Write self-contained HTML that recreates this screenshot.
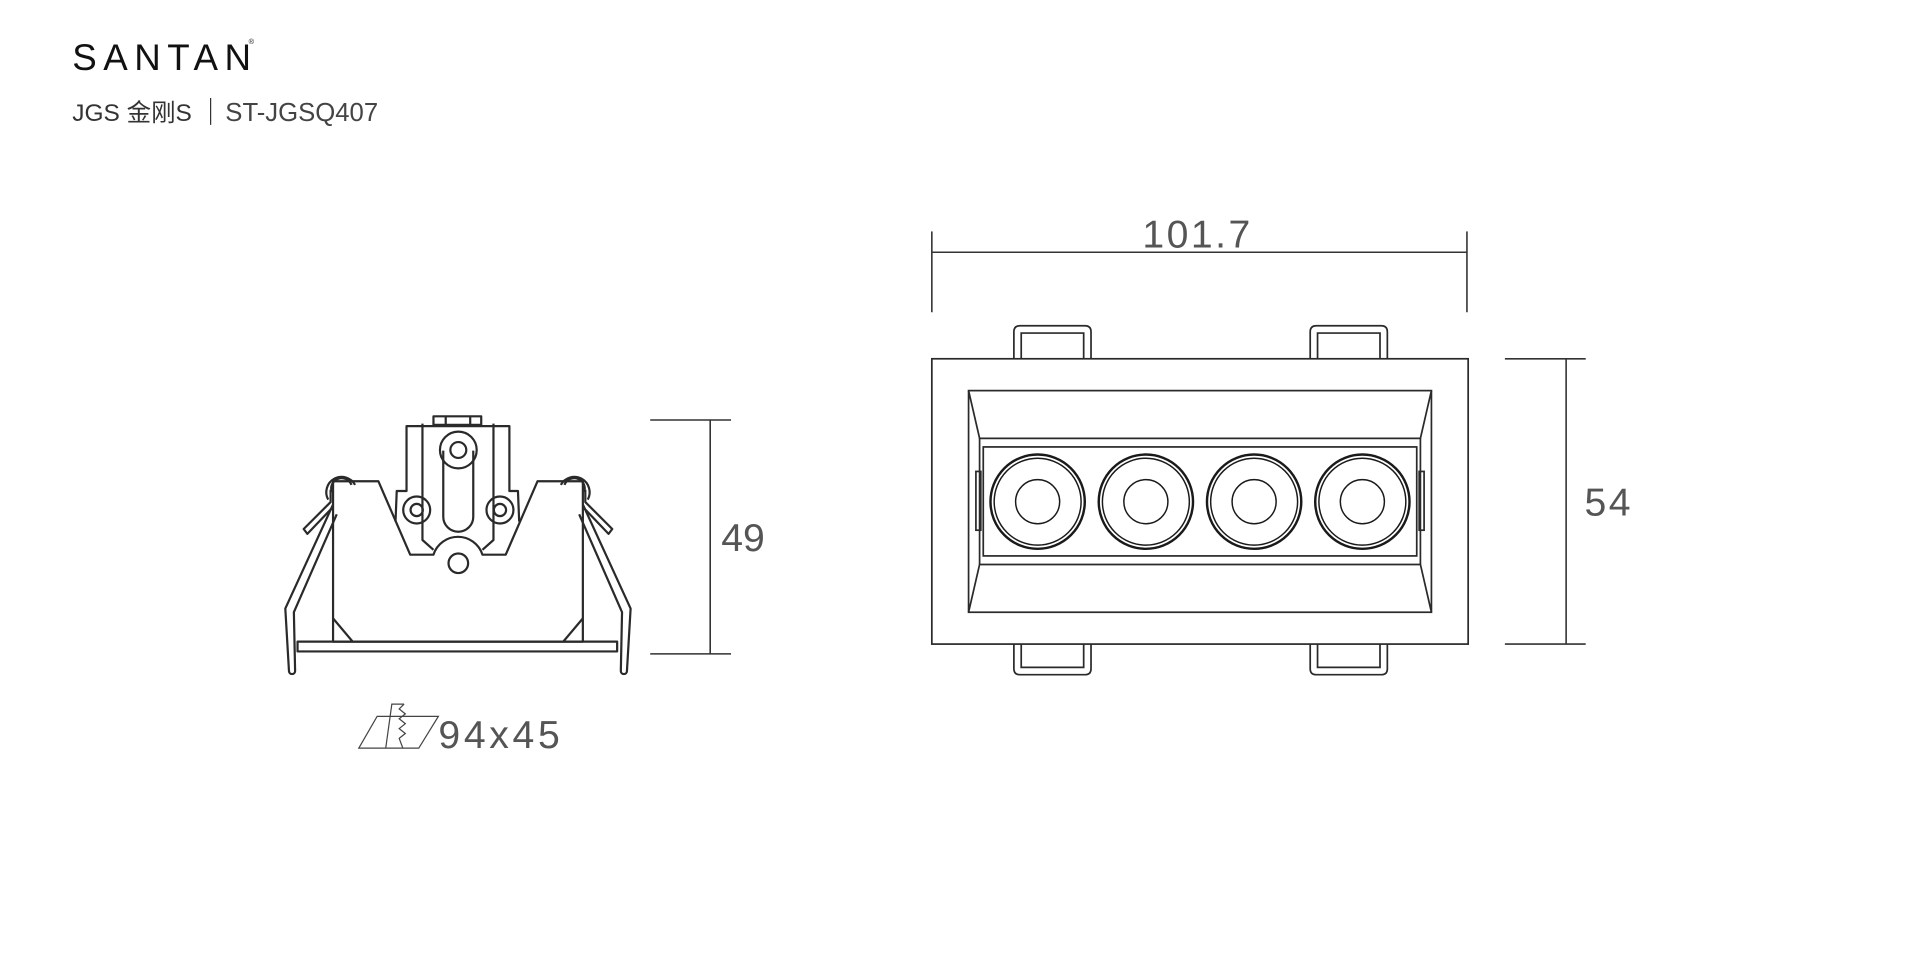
<!DOCTYPE html>
<html><head><meta charset="utf-8"><style>
html,body{margin:0;padding:0;background:#fff;width:1920px;height:960px;overflow:hidden}
svg{display:block}
text{font-family:"Liberation Sans","Noto Sans CJK SC",sans-serif}
</style></head><body>
<svg width="1920" height="960" viewBox="0 0 1568 784" xmlns="http://www.w3.org/2000/svg">
<!-- header -->
<text x="59" y="57" font-size="30" fill="#111" textLength="146" lengthAdjust="spacing">SANTAN</text>
<text x="203" y="36" font-size="6" fill="#111">®</text>
<text x="59" y="99" font-size="20" fill="#333">JGS 金刚S</text>
<line x1="172" y1="80" x2="172" y2="102" stroke="#333" stroke-width="1"/>
<text x="184" y="99" font-size="21" fill="#444">ST-JGSQ407</text>

<g fill="none" stroke="#2a2a2a" stroke-width="1.8" stroke-linejoin="round">
<!-- LEFT VIEW -->
<path d="M272,393 L309,393 L335,453 L354,453 A21,21 0 0 1 394,453 L413,453 L439,393 L476,393 L476,524 L272,524 Z"/>
<line x1="272" y1="505" x2="288" y2="524"/>
<line x1="476" y1="505" x2="460" y2="524"/>
<path d="M323,426 L324,401 L332,401 L332,348 L416,348 L416,401 L423,401 L424,426"/>
<path d="M345,346 L345,441 L354,449 M403,346 L403,441 L394,449"/>
<rect x="354" y="340" width="39" height="7"/>
<line x1="364" y1="340" x2="364" y2="347"/><line x1="384" y1="340" x2="384" y2="347"/>
<path d="M362,368 L362,422 A12.2,12.2 0 0 0 386.5,422 L386.5,368"/>
<circle cx="374.3" cy="367.5" r="15"/>
<circle cx="374.3" cy="367.5" r="6.5"/>
<circle cx="340.3" cy="416.5" r="11"/><circle cx="340.3" cy="416.5" r="5"/>
<circle cx="408.3" cy="416.5" r="11"/><circle cx="408.3" cy="416.5" r="5"/>
<circle cx="374.3" cy="460" r="8"/>
<rect x="243" y="524" width="261" height="8"/>
<path d="M268,408 A12,12 0 1 1 290,396"/>
<path d="M271,402 A8,8 0 0 1 287,396"/>
<path d="M270,400 L270,410 L248,432 L251,436 L272,414"/>
<path d="M272,412 L233,497 L236,548 A2,2 0 0 0 241,548 L240,500 L275,420"/>
<path d="M480,408 A12,12 0 1 0 458,396"/>
<path d="M477,402 A8,8 0 0 0 461,396"/>
<path d="M478,400 L478,410 L500,432 L497,436 L476,414"/>
<path d="M476,412 L515,497 L512,548 A2,2 0 0 1 507,548 L508,500 L473,420"/>
</g>

<g stroke="#333" stroke-width="1.3">
<line x1="531" y1="343" x2="597" y2="343"/>
<line x1="531" y1="534" x2="597" y2="534"/>
<line x1="580" y1="343" x2="580" y2="534"/>
</g>
<text x="589" y="450" font-size="32" fill="#555">49</text>

<g fill="none" stroke="#444" stroke-width="1">
<path d="M293,611 L308,585 L358,585 L342,611 Z"/>
<path d="M315,611 L320,575 L330,575"/>
<path d="M330,575 L326,579 L331,583 L326,587 L331,591 L326,595 L331,599 L326,603 L329,611"/>
</g>
<text x="358" y="611" font-size="32" fill="#555" letter-spacing="3">94x45</text>

<g fill="none" stroke="#2a2a2a" stroke-width="1.4">
<rect x="761" y="293" width="438" height="233"/>
<rect x="791" y="319" width="378" height="181"/>
<path d="M791,319 L800,358 L1160,358 L1169,319"/>
<path d="M791,500 L800,461 L1160,461 L1169,500"/>
<line x1="800" y1="358" x2="800" y2="461"/>
<line x1="1160" y1="358" x2="1160" y2="461"/>
<rect x="803" y="365" width="354" height="89"/>
<rect x="797" y="385" width="4" height="48"/>
<rect x="1159" y="385" width="4" height="48"/>
<path d="M828,293 L828,271 Q828,266 833,266 L886,266 Q891,266 891,271 L891,293 M834,293 L834,272 L885,272 L885,293"/>
<path d="M1070,293 L1070,271 Q1070,266 1075,266 L1128,266 Q1133,266 1133,271 L1133,293 M1076,293 L1076,272 L1127,272 L1127,293"/>
<path d="M828,526 L828,546 Q828,551 833,551 L886,551 Q891,551 891,546 L891,526 M834,526 L834,545 L885,545 L885,526"/>
<path d="M1070,526 L1070,546 Q1070,551 1075,551 L1128,551 Q1133,551 1133,546 L1133,526 M1076,526 L1076,545 L1127,545 L1127,526"/>
</g>
<g fill="none" stroke="#1a1a1a">
<circle cx="847.4" cy="409.7" r="38.5" stroke-width="2"/><circle cx="847.4" cy="409.7" r="35.5" stroke-width="1.2"/><circle cx="847.4" cy="409.7" r="18" stroke-width="1.2"/>
<circle cx="935.8" cy="409.7" r="38.5" stroke-width="2"/><circle cx="935.8" cy="409.7" r="35.5" stroke-width="1.2"/><circle cx="935.8" cy="409.7" r="18" stroke-width="1.2"/>
<circle cx="1024.2" cy="409.7" r="38.5" stroke-width="2"/><circle cx="1024.2" cy="409.7" r="35.5" stroke-width="1.2"/><circle cx="1024.2" cy="409.7" r="18" stroke-width="1.2"/>
<circle cx="1112.6" cy="409.7" r="38.5" stroke-width="2"/><circle cx="1112.6" cy="409.7" r="35.5" stroke-width="1.2"/><circle cx="1112.6" cy="409.7" r="18" stroke-width="1.2"/>
</g>

<g stroke="#333" stroke-width="1.3">
<line x1="761" y1="189" x2="761" y2="255"/>
<line x1="1198" y1="189" x2="1198" y2="255"/>
<line x1="761" y1="206" x2="1198" y2="206"/>
</g>
<text x="978" y="202" font-size="32" fill="#555" text-anchor="middle" letter-spacing="2">101.7</text>

<g stroke="#333" stroke-width="1.3">
<line x1="1229" y1="293" x2="1295" y2="293"/>
<line x1="1229" y1="526" x2="1295" y2="526"/>
<line x1="1279" y1="293" x2="1279" y2="526"/>
</g>
<text x="1294" y="421" font-size="32" fill="#555" letter-spacing="2">54</text>
</svg>
</body></html>
